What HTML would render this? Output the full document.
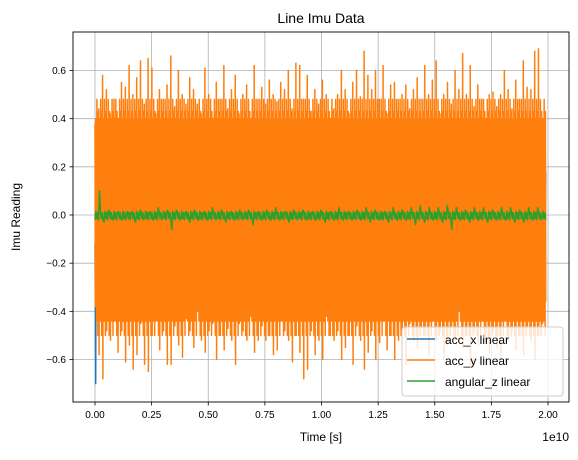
<!DOCTYPE html>
<html><head><meta charset="utf-8">
<style>
body{margin:0;background:#fff;}
svg text{font-family:"Liberation Sans","DejaVu Sans",sans-serif;}
</style></head>
<body>
<svg id="chart" width="578" height="455" xmlns="http://www.w3.org/2000/svg">
<rect width="578" height="455" fill="#fff"/>
<text x="321" y="23" font-size="14" text-anchor="middle">Line Imu Data</text>
<g id="grid"></g>
<g id="plot"></g>
<rect x="73" y="32" width="496" height="370" fill="none" stroke="#000" stroke-width="0.9"/>
<g id="ticks"></g>
<text x="321" y="441" font-size="12" text-anchor="middle">Time [s]</text>
<text x="569" y="441" font-size="12" text-anchor="end">1e10</text>
<text transform="translate(20,217) rotate(-90)" font-size="12" text-anchor="middle">Imu Reading</text>
<g>
<rect x="402" y="327" width="161" height="69" rx="3" fill="#fff" fill-opacity="0.8" stroke="#ccc"/>
<line x1="407" y1="339" x2="435" y2="339" stroke="#1f77b4" stroke-width="1.5"/>
<text x="445" y="344" font-size="12">acc_x linear</text>
<line x1="407" y1="360" x2="435" y2="360" stroke="#ff7f0e" stroke-width="1.5"/>
<text x="445" y="365" font-size="12">acc_y linear</text>
<line x1="407" y1="381" x2="435" y2="381" stroke="#2ca02c" stroke-width="1.5"/>
<text x="445" y="386" font-size="12">angular_z linear</text>
</g>
</svg>
<script>
const xTicks=[0,0.25,0.5,0.75,1.0,1.25,1.5,1.75,2.0];
const xTickLabels=["0.00","0.25","0.50","0.75","1.00","1.25","1.50","1.75","2.00"];
const yTicks=[-0.6,-0.4,-0.2,0.0,0.2,0.4,0.6];
const yTickLabels=["−0.6","−0.4","−0.2","0.0","0.2","0.4","0.6"];
const tStart=0.0, tEnd=1.99;
const accYTops=[0.38,0.44,0.58,0.52,0.42,0.48,0.40,0.55,0.53,0.62,0.50,0.57,0.64,0.46,0.65,0.61,0.42,0.52,0.48,0.54,0.66,0.45,0.60,0.50,0.46,0.57,0.52,0.46,0.42,0.61,0.50,0.40,0.55,0.48,0.62,0.44,0.52,0.58,0.42,0.50,0.54,0.38,0.62,0.48,0.53,0.46,0.56,0.50,0.47,0.55,0.52,0.60,0.44,0.63,0.62,0.48,0.58,0.43,0.52,0.46,0.56,0.50,0.40,0.44,0.50,0.60,0.52,0.42,0.55,0.60,0.49,0.68,0.58,0.52,0.60,0.48,0.62,0.42,0.54,0.55,0.48,0.50,0.54,0.44,0.52,0.57,0.48,0.62,0.50,0.56,0.64,0.42,0.50,0.55,0.46,0.60,0.52,0.67,0.50,0.62,0.45,0.54,0.48,0.40,0.50,0.51,0.45,0.50,0.60,0.52,0.44,0.56,0.48,0.64,0.53,0.52,0.68,0.69,0.40];
const accYBottoms=[-0.38,-0.58,-0.68,-0.48,-0.52,-0.44,-0.57,-0.48,-0.61,-0.54,-0.64,-0.58,-0.45,-0.62,-0.65,-0.50,-0.44,-0.56,-0.48,-0.62,-0.62,-0.46,-0.54,-0.59,-0.43,-0.48,-0.55,-0.40,-0.52,-0.57,-0.48,-0.45,-0.60,-0.50,-0.56,-0.47,-0.52,-0.62,-0.45,-0.48,-0.52,-0.42,-0.57,-0.52,-0.46,-0.52,-0.50,-0.58,-0.56,-0.44,-0.48,-0.52,-0.61,-0.50,-0.57,-0.68,-0.64,-0.48,-0.58,-0.52,-0.60,-0.42,-0.50,-0.52,-0.48,-0.60,-0.55,-0.50,-0.62,-0.46,-0.52,-0.64,-0.57,-0.48,-0.60,-0.53,-0.44,-0.56,-0.50,-0.60,-0.52,-0.48,-0.62,-0.45,-0.52,-0.55,-0.47,-0.50,-0.58,-0.44,-0.52,-0.48,-0.60,-0.54,-0.46,-0.52,-0.40,-0.55,-0.50,-0.62,-0.48,-0.54,-0.44,-0.52,-0.57,-0.48,-0.55,-0.60,-0.44,-0.52,-0.48,-0.56,-0.50,-0.58,-0.46,-0.52,-0.60,-0.50,-0.45,-0.40];
const accYFill=[0.40,-0.38,0.30,-0.44,0.48,-0.33,0.36,-0.50,0.43,-0.36];
const accXTimes=[0.0,0.003,0.006,0.009,0.02,1.98,1.985,1.99];
const accX=[-0.12,-0.70,0.38,-0.42,0.0,0.0,-0.30,0.18];
const angZ=[-0.02,0.10,-0.03,0.02,-0.02,0.01,-0.02,0.00,0.01,-0.03,0.02,-0.01,0.01,-0.02,0.03,-0.01,0.02,-0.06,0.02,-0.02,0.01,-0.03,0.02,-0.02,0.01,-0.02,0.03,-0.01,0.02,-0.03,0.01,-0.02,0.02,-0.01,0.02,-0.04,0.01,-0.02,0.02,-0.02,0.03,-0.02,0.01,-0.03,0.02,-0.01,0.02,-0.02,0.01,-0.02,0.02,-0.03,0.01,-0.02,0.03,-0.02,0.01,-0.02,0.02,-0.02,0.03,-0.03,0.02,-0.02,0.01,-0.03,0.03,-0.02,0.02,-0.02,0.03,-0.04,0.04,-0.03,0.03,-0.02,0.03,-0.03,0.04,-0.06,0.03,-0.02,0.02,-0.03,0.03,-0.02,0.03,-0.03,0.02,-0.02,0.03,-0.02,0.03,-0.03,0.02,-0.03,0.03,-0.02,0.03,-0.01];
const angZFill=[0.015,-0.015,0.01,-0.02];

const X=v=>95+(v-0)*226.5;
const Y=v=>215-v*(144.5/0.6);
const NS="http://www.w3.org/2000/svg";
function mk(tag,attrs,parent){const e=document.createElementNS(NS,tag);for(const k in attrs)e.setAttribute(k,attrs[k]);parent.appendChild(e);return e;}
const grid=document.getElementById('grid'),ticks=document.getElementById('ticks'),plot=document.getElementById('plot');
xTicks.forEach((t,i)=>{
  const g=mk('line',{x1:X(t),x2:X(t),y1:32,y2:402,stroke:'#b0b0b0','stroke-width':0.8},grid);
  
  
  mk('line',{x1:X(t),x2:X(t),y1:402,y2:405.5,stroke:'#000','stroke-width':0.8},ticks);
  const tx=mk('text',{x:X(t),y:418,'font-size':10,'text-anchor':'middle'},ticks);
  tx.textContent=xTickLabels[i];
  
  
});
yTicks.forEach((t,i)=>{
  const g=mk('line',{x1:73,x2:569,y1:Y(t),y2:Y(t),stroke:'#b0b0b0','stroke-width':0.8},grid);
  
  
  mk('line',{x1:69.5,x2:73,y1:Y(t),y2:Y(t),stroke:'#000','stroke-width':0.8},ticks);
  const tx=mk('text',{x:66,y:Y(t)+3.5,'font-size':10,'text-anchor':'end'},ticks);
  tx.textContent=yTickLabels[i];
  
  
});
function draw(times,vals,color,name,w){
  const pts=vals.map((v,i)=>X(times[i]).toFixed(2)+','+Y(v).toFixed(2)).join(' ');
  const p=mk('polyline',{points:pts,fill:'none',stroke:color,'stroke-width':w,'stroke-linejoin':'round'},plot);
  
  
}
function even(n){return Array.from({length:n},(_,i)=>tStart+(tEnd-tStart)*i/(n-1));}
draw(accXTimes,accX,'#1f77b4','acc-x-line',1.5);
const accY=[];
accYTops.forEach((t,i)=>{accY.push(t);accY.push(accYBottoms[i]);accYFill.forEach(f=>accY.push(f));});
draw(even(accY.length),accY,'#ff7f0e','acc-y-line',1.5);
const angZD=[];
angZ.forEach(v=>{angZD.push(v);angZFill.forEach(f=>angZD.push(f));});
draw(even(angZD.length),angZD,'#2ca02c','angular-z-line',1.5);
</script>
</body></html>
